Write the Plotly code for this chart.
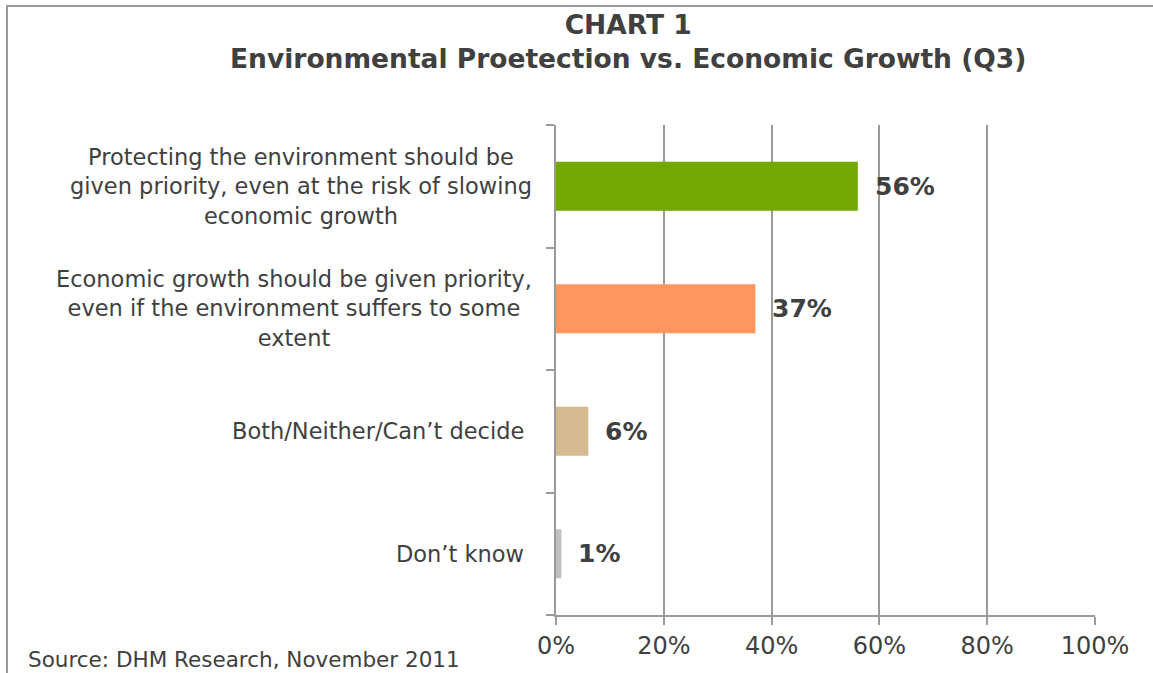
import plotly.graph_objects as go

# Survey responses (Q3)
categories = [
    "Protecting the environment should be<br>given priority, even at the risk of slowing<br>economic growth",
    "Economic growth should be given priority,<br>even if the environment suffers to some<br>extent",
    "Both/Neither/Can\u2019t decide",
    "Don\u2019t know",
]
values = [56, 37, 6, 1]
bar_colors = ["#72A800", "#FF965F", "#D4BA8E", "#C0C0C0"]
x_ticks = [0, 20, 40, 60, 80, 100]
x_tick_labels = ["0%", "20%", "40%", "60%", "80%", "100%"]

W, H = 1153, 673
L, R, T, B = 556, 58, 125, 58
pw = W - L - R
ph = H - T - B

FONT = "DejaVu Sans"
TXT = "#404040"
GRID = "#9A9A9A"

cat_ids = [f"c{i}" for i in range(len(categories))]

fig = go.Figure(
    go.Bar(
        x=values,
        y=cat_ids,
        orientation="h",
        marker=dict(color=bar_colors, line=dict(width=0)),
        width=0.4,
        hoverinfo="skip",
    )
)

annotations = []
# category labels, centred text block right-aligned against the axis
for cid, label in zip(cat_ids, categories):
    multi = "<br>" in label
    annotations.append(dict(
        x=(534 - L) / pw, xref="paper", y=cid, yref="y",
        xshift=0 if multi else -8,
        text=label, showarrow=False, xanchor="right", yanchor="middle",
        align="center", font=dict(family=FONT, size=22.5, color=TXT),
    ))
# value labels
for cid, v in zip(cat_ids, values):
    annotations.append(dict(
        x=v, xref="x", y=cid, yref="y", text=f"<b>{v}%</b>",
        showarrow=False, xanchor="left", yanchor="middle", xshift=15,
        font=dict(family=FONT, size=25, color=TXT),
    ))
# title
annotations.append(dict(
    x=(628 - L) / pw, xref="paper", y=1 + (T - 42) / ph, yref="paper",
    text="<b>CHART 1<br>Environmental Proetection vs. Economic Growth (Q3)</b>",
    showarrow=False, xanchor="center", yanchor="middle", align="center",
    font=dict(family=FONT, size=26.5, color=TXT),
))
# source note
annotations.append(dict(
    x=(26 - L) / pw, xref="paper", y=-(659 - (H - B)) / ph, yref="paper",
    text="Source: DHM Research, November 2011", showarrow=False,
    xanchor="left", yanchor="middle",
    font=dict(family=FONT, size=21.5, color=TXT),
))

# outer frame: left and top edges
px2x = lambda p: (p - L) / pw
py2y = lambda p: 1 - (p - T) / ph
shapes = [
    dict(type="line", xref="paper", yref="paper",
         x0=px2x(7), x1=px2x(7), y0=py2y(6), y1=py2y(H + 5),
         line=dict(color="#9A9A9A", width=2)),
    dict(type="line", xref="paper", yref="paper",
         x0=px2x(6), x1=px2x(W + 5), y0=py2y(6), y1=py2y(6),
         line=dict(color="#9A9A9A", width=2)),
]

fig.update_layout(
    width=W, height=H,
    margin=dict(l=L, r=R, t=T, b=B, pad=0),
    paper_bgcolor="white", plot_bgcolor="white",
    showlegend=False,
    annotations=annotations,
    shapes=shapes,
    bargap=0.6,
    xaxis=dict(
        range=[0, 100], tickvals=x_ticks, ticktext=x_tick_labels,
        showgrid=True, gridcolor=GRID, gridwidth=1.5,
        zeroline=False, showline=True, linecolor=GRID, linewidth=1.5,
        ticks="outside", ticklen=8, tickcolor=GRID, tickwidth=1.5,
        tickfont=dict(family=FONT, size=24, color=TXT),
        fixedrange=True,
    ),
    yaxis=dict(
        type="category", categoryorder="array", categoryarray=cat_ids[::-1],
        autorange=False, range=[-0.5, len(cat_ids) - 0.5],
        showticklabels=False, tickson="boundaries",
        ticks="outside", ticklen=8, tickcolor=GRID, tickwidth=1.5,
        showgrid=False, zeroline=False,
        showline=True, linecolor=GRID, linewidth=1.5,
        fixedrange=True,
    ),
)

fig.write_html("out.html", config={"displayModeBar": False})
